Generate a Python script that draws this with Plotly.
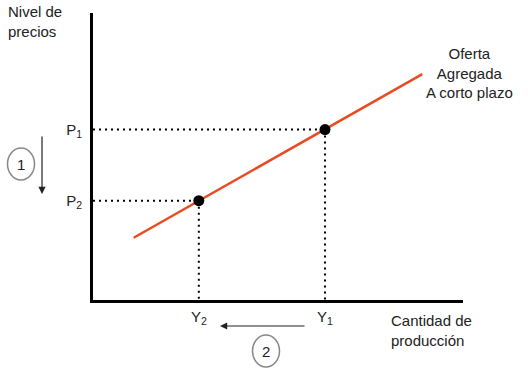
import plotly.graph_objects as go

# ---- data (axis units: quantity on x, price level on y) ----
supply_q = [1.10, 8.90]          # short-run aggregate supply line ends
supply_p = [2.17, 7.87]
eq_q = [2.86, 6.27]              # Y2, Y1
eq_p = [3.46, 5.94]              # P2, P1
q_tick_labels = ["Y<sub>2</sub>", "Y<sub>1</sub>"]
p_tick_labels = ["P<sub>2</sub>", "P<sub>1</sub>"]
x_title = "Cantidad de<br>producción"
y_title = "Nivel de<br>precios"
curve_label = "Oferta<br>Agregada<br>A corto plazo"

W, H = 528, 376
L, R, T, B = 93, 463, 13, 300
FONT = "Liberation Sans, Arial, sans-serif"
TXT = "#222222"


def paper(x, y):
    return (x - L) / (R - L), (B - y) / (B - T)


fig = go.Figure()

# dotted guide lines
for q, p in zip(eq_q, eq_p):
    fig.add_trace(go.Scatter(x=[0, q], y=[p, p], mode="lines",
                             line=dict(color="black", width=2, dash="2px,4px"),
                             hoverinfo="skip", showlegend=False))
    fig.add_trace(go.Scatter(x=[q, q], y=[p, 0], mode="lines",
                             line=dict(color="black", width=2, dash="2px,4px"),
                             hoverinfo="skip", showlegend=False))

# supply curve
fig.add_trace(go.Scatter(x=supply_q, y=supply_p, mode="lines",
                         line=dict(color="#e84b20", width=2.5),
                         showlegend=False))
# equilibrium points
fig.add_trace(go.Scatter(x=eq_q, y=eq_p, mode="markers",
                         marker=dict(color="black", size=11),
                         showlegend=False))

annotations = []


def txt(text, x, y, xanchor="center", align="center", size=15):
    px_, py_ = paper(x, y)
    annotations.append(dict(text=text, x=px_, y=py_, xref="paper", yref="paper",
                            xanchor=xanchor, yanchor="middle", align=align,
                            showarrow=False, font=dict(family=FONT, size=size, color=TXT)))


txt(y_title, 6, 22, xanchor="left", align="left")
txt(curve_label, 469, 73)
txt(x_title, 389, 330, xanchor="left", align="left")
txt("1", 21, 164)
txt("2", 266, 351)


def arrow(hx, hy, ax, ay):
    px_, py_ = paper(hx, hy)
    annotations.append(dict(text="", x=px_, y=py_, xref="paper", yref="paper",
                            ax=ax, ay=ay, axref="pixel", ayref="pixel",
                            showarrow=True, arrowhead=2, arrowsize=1.2,
                            arrowwidth=1.2, arrowcolor="#222222"))


arrow(42, 194, 0, -59)
arrow(220, 326, 86, 0)

shapes = []
for cx, cy in [(21, 164), (266, 351)]:
    x0, y0 = paper(cx - 13.5, cy + 16)
    x1, y1 = paper(cx + 13.5, cy - 16)
    shapes.append(dict(type="circle", xref="paper", yref="paper",
                       x0=x0, y0=y0, x1=x1, y1=y1,
                       line=dict(color="#888888", width=1.5)))

fig.update_layout(
    width=W, height=H,
    margin=dict(l=L, r=W - R, t=T, b=H - B, pad=0),
    paper_bgcolor="white", plot_bgcolor="white",
    font=dict(family=FONT, size=15, color=TXT),
    annotations=annotations, shapes=shapes,
    xaxis=dict(range=[0, 10], showgrid=False, zeroline=False,
               showline=True, linecolor="black", linewidth=3,
               tickvals=eq_q, ticktext=q_tick_labels, ticks="",
               ticklabelstandoff=1, fixedrange=True),
    yaxis=dict(range=[0, 10], showgrid=False, zeroline=False,
               showline=True, linecolor="black", linewidth=3,
               tickvals=eq_p, ticktext=p_tick_labels, ticks="",
               ticklabelstandoff=5, fixedrange=True),
)

fig.write_html(
    "out.html",
    config={"displayModeBar": False},
    post_script="document.body.style.margin='0';document.body.style.overflow='hidden';",
)
